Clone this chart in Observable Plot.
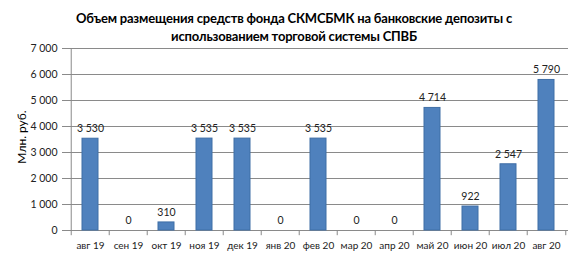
<!DOCTYPE html>
<html><head><meta charset="utf-8">
<script src="https://cdn.jsdelivr.net/npm/d3@7"></script>
<script src="https://cdn.jsdelivr.net/npm/@observablehq/plot@0.6"></script>
<style>
body{margin:0;background:#fff;font-family:Lato,"Open Sans",sans-serif;}
#wrap{position:relative;width:588px;height:257px;overflow:hidden;background:#fff;}
#title{position:absolute;left:0;top:9px;width:588px;text-align:center;font-weight:bold;font-size:13px;line-height:18px;color:#000;letter-spacing:-0.2px;}
#ylab{position:absolute;left:21px;top:137px;transform:translate(-50%,-50%) rotate(-90deg);font-size:12px;color:#000;white-space:nowrap;z-index:2;}
#chart{position:absolute;left:0;top:42px;z-index:1;}
</style></head>
<body><div id="wrap">
<div id="title">Объем размещения средств фонда СКМСБМК на банковские депозиты с<br>использованием торговой системы СПВБ</div>
<div id="chart"></div>
<div id="ylab">Млн. руб.</div>
</div>
<script>
const categories = ["авг 19","сен 19","окт 19","ноя 19","дек 19","янв 20","фев 20","мар 20","апр 20","май 20","июн 20","июл 20","авг 20"];
const values = [3530, 0, 310, 3535, 3535, 0, 3535, 0, 0, 4714, 922, 2547, 5790];
const yTicks = [0,1000,2000,3000,4000,5000,6000,7000];
const yTickLabels = ["0","1 000","2 000","3 000","4 000","5 000","6 000","7 000"];
const valueLabels = ["3 530","0","310","3 535","3 535","0","3 535","0","0","4 714","922","2 547","5 790"];

const data = categories.map((c,i)=>({cat:c, v:values[i], lab:valueLabels[i]}));
const W = 588, H = 215, ML = 67, MR = 20;
const step = (W - ML - MR) / categories.length;

const chart = Plot.plot({
  width: W, height: H,
  marginLeft: ML, marginRight: MR, marginTop: 6, marginBottom: 27,
  style: {fontFamily: "Lato, 'Open Sans', sans-serif", fontSize: "10.5px", color: "#222", background: "transparent"},
  x: {type: "band", domain: categories, padding: 0, label: null},
  y: {domain: [0, 7000], label: null},
  marks: [
    Plot.gridY(yTicks, {stroke: "#8a8a8a", strokeOpacity: 1, strokeWidth: 1}),
    Plot.ruleY([0], {stroke: "#8a8a8a"}),
    Plot.ruleX(categories, {x: d=>d, y1: 0, y2: -200, dx: -step/2, stroke: "#8a8a8a"}),
    Plot.ruleX([categories[categories.length-1]], {x: d=>d, y1: 0, y2: -200, dx: step/2, stroke: "#8a8a8a"}),
    Plot.ruleX([categories[0]], {x: d=>d, y1: 0, y2: 7000, dx: -step/2, stroke: "#8a8a8a"}),
    Plot.barY(data, {x: "cat", y: "v", fill: "#4f81bd", stroke: "#3f6ea6", strokeWidth: 1, insetLeft: 11, insetRight: 11}),
    Plot.text(data, {x: "cat", y: "v", text: "lab", dy: -10, fill: "#222", fontSize: 10.5}),
    Plot.axisY(yTicks, {tickSize: 5, tickPadding: 5, stroke: "#8a8a8a", tickFormat: (d)=>yTickLabels[yTicks.indexOf(d)], fill: "#222", fontSize: 10.5}),
    Plot.axisX(categories, {tickSize: 0, tickPadding: 11, fill: "#222", fontSize: 10})
  ]
});
document.getElementById("chart").appendChild(chart);
</script>
</body></html>
